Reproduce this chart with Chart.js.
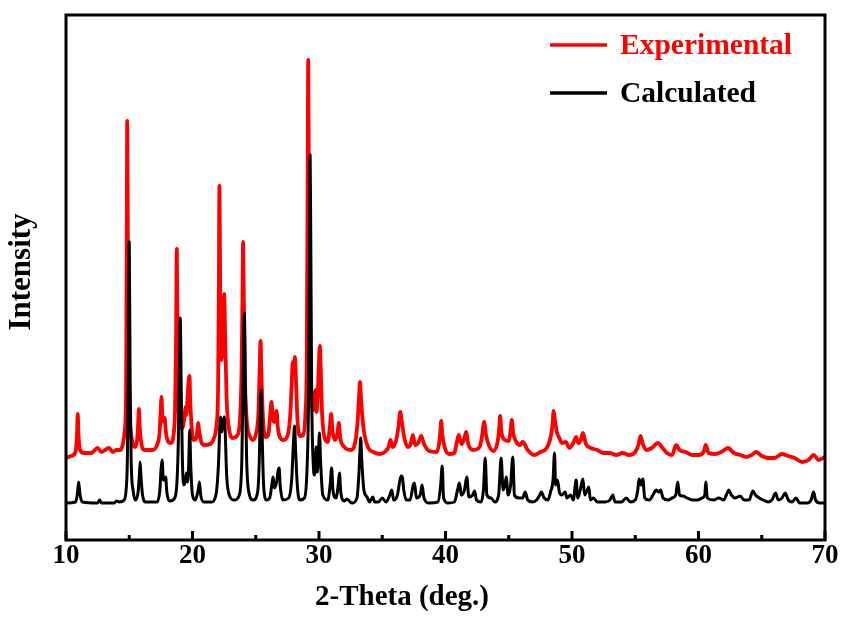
<!DOCTYPE html>
<html>
<head>
<meta charset="utf-8">
<title>XRD pattern</title>
<script src="https://cdn.jsdelivr.net/npm/chart.js@4/dist/chart.umd.min.js"></script>
<style>
  html, body { margin: 0; padding: 0; background: #fff; }
  #wrap { width: 843px; height: 617px; }
</style>
</head>
<body>
<div id="wrap"><canvas id="xrd" width="843" height="617"></canvas></div>
<script>
// 2-theta (deg.) / intensity pairs, measured pattern (offset upward)
const experimental = [
  [10.0,82],[10.4,84],[10.75,88],[10.87,105],[10.93,126],[10.99,105],[11.12,90],[11.4,87],[12.0,87],[12.5,92],
  [12.8,88],[13.4,92],[13.7,88],[14.0,90],[14.3,90],[14.5,96],[14.65,110],[14.75,150],[14.8,300],[14.84,419],
  [14.89,300],[14.96,160],[15.08,115],[15.25,98],[15.45,93],[15.62,100],[15.7,115],[15.76,131],[15.82,115],[15.95,97],
  [16.2,90],[16.8,90],[17.2,95],[17.4,108],[17.48,128],[17.55,143],[17.63,122],[17.72,118],[17.8,122],[17.9,108],
  [18.05,99],[18.3,97],[18.5,105],[18.62,130],[18.7,200],[18.76,291],[18.82,200],[18.9,135],[19.05,112],[19.2,112],
  [19.38,125],[19.45,133],[19.52,125],[19.62,145],[19.7,160],[19.76,164],[19.82,140],[19.95,110],[20.1,100],[20.3,102],
  [20.4,112],[20.45,117],[20.52,110],[20.7,98],[20.9,95],[21.4,96],[21.7,102],[21.9,115],[22.02,150],[22.08,250],
  [22.13,354],[22.19,250],[22.27,180],[22.35,190],[22.43,230],[22.5,246],[22.57,210],[22.7,140],[22.9,110],[23.2,102],
  [23.5,104],[23.75,120],[23.88,170],[23.95,240],[24.0,298],[24.06,240],[24.15,160],[24.3,118],[24.5,105],[24.8,100],
  [25.05,108],[25.2,125],[25.3,165],[25.38,199],[25.45,165],[25.58,120],[25.8,103],[26.0,106],[26.12,122],[26.24,138],
  [26.35,122],[26.48,118],[26.64,129],[26.75,112],[26.9,103],[27.2,100],[27.55,106],[27.75,130],[27.85,160],[27.93,178],
  [28.02,168],[28.1,183],[28.18,160],[28.3,120],[28.5,104],[28.75,105],[28.92,125],[29.03,180],[29.1,350],[29.15,480],
  [29.2,350],[29.28,200],[29.4,145],[29.55,130],[29.65,145],[29.72,150],[29.8,128],[29.92,150],[30.0,180],[30.07,194],
  [30.14,170],[30.25,125],[30.45,102],[30.7,98],[30.85,112],[30.96,126],[31.06,110],[31.25,100],[31.45,106],[31.57,117],
  [31.67,103],[32.0,93],[32.5,90],[32.85,97],[33.05,118],[33.15,140],[33.24,158],[33.33,140],[33.45,120],[33.6,105],
  [33.9,92],[34.3,88],[34.8,86],[35.2,88],[35.5,93],[35.65,100],[35.8,93],[36.1,100],[36.3,115],[36.42,128],
  [36.55,118],[36.75,102],[37.0,93],[37.25,96],[37.42,105],[37.6,95],[37.85,97],[38.08,104],[38.3,96],[38.7,89],
  [39.3,88],[39.5,97],[39.6,110],[39.66,119],[39.75,105],[39.95,92],[40.3,86],[40.7,87],[40.9,98],[41.05,105],
  [41.25,96],[41.45,100],[41.63,108],[41.8,96],[42.2,90],[42.7,93],[42.9,105],[43.06,118],[43.2,105],[43.45,94],
  [43.8,89],[44.1,97],[44.25,112],[44.32,124],[44.42,108],[44.7,100],[45.0,99],[45.15,110],[45.24,120],[45.35,107],
  [45.6,98],[45.9,95],[46.1,98],[46.5,90],[47.0,85],[47.5,88],[48.0,92],[48.3,102],[48.45,115],[48.55,129],
  [48.65,120],[48.8,108],[49.0,102],[49.2,97],[49.5,98],[49.8,92],[50.1,97],[50.33,103],[50.5,97],[50.7,100],
  [50.86,107],[51.1,96],[51.5,92],[52.0,90],[52.5,87],[53.0,87],[53.5,85],[54.0,87],[54.5,85],[55.0,88],
  [55.25,95],[55.42,104],[55.6,96],[55.9,90],[56.3,92],[56.8,97],[57.1,93],[57.5,87],[57.9,85],[58.24,95],
  [58.5,90],[59.0,88],[59.5,85],[60.0,85],[60.4,88],[60.57,95],[60.8,87],[61.3,86],[61.8,88],[62.33,92],
  [62.8,87],[63.3,85],[63.8,83],[64.2,85],[64.56,88],[65.0,84],[65.5,82],[66.0,82],[66.6,86],[67.1,84],
  [67.6,82],[68.2,78],[68.7,80],[69.1,85],[69.5,80],[70.0,83]
];

// simulated pattern from the crystal structure
const calculated = [
  [10,37],[10.75,38],[10.9,46],[11.0,58],[11.1,46],[11.3,38],[12.5,37],[12.65,40],[12.8,37],[13.8,37],
  [14.0,39],[14.2,38],[14.6,40],[14.75,50],[14.85,80],[14.92,160],[15.0,298],[15.07,160],[15.15,80],[15.3,50],
  [15.5,40],[15.7,48],[15.8,65],[15.86,78],[15.92,65],[16.05,45],[16.3,38],[17.2,38],[17.42,50],[17.52,72],
  [17.6,80],[17.7,60],[17.82,60],[17.88,63],[17.97,48],[18.2,39],[18.6,42],[18.78,60],[18.88,100],[18.96,170],
  [19.03,222],[19.1,160],[19.2,80],[19.32,55],[19.45,60],[19.53,67],[19.6,58],[19.7,75],[19.78,110],[19.86,75],
  [20.0,45],[20.2,40],[20.45,50],[20.55,58],[20.65,45],[20.9,38],[21.5,38],[21.85,45],[22.05,75],[22.15,110],
  [22.22,123],[22.3,108],[22.4,115],[22.5,123],[22.58,110],[22.7,65],[22.9,45],[23.3,40],[23.7,45],[23.9,80],
  [24.0,160],[24.1,227],[24.17,160],[24.28,80],[24.45,48],[24.8,40],[25.15,48],[25.28,80],[25.36,130],[25.43,150],
  [25.5,110],[25.62,55],[25.85,40],[26.1,42],[26.28,56],[26.37,63],[26.47,52],[26.65,58],[26.78,70],[26.85,72],
  [26.93,55],[27.15,40],[27.6,42],[27.85,62],[27.97,95],[28.07,114],[28.15,90],[28.3,52],[28.5,40],[28.85,42],
  [29.05,70],[29.18,150],[29.25,300],[29.3,385],[29.35,300],[29.42,150],[29.55,75],[29.65,65],[29.78,93],[29.86,68],
  [29.95,85],[30.04,107],[30.12,80],[30.3,45],[30.7,40],[30.88,55],[31.0,72],[31.1,50],[31.35,42],[31.52,55],
  [31.62,67],[31.72,48],[32.0,39],[32.2,41],[32.6,37],[33.0,42],[33.15,65],[33.24,90],[33.3,102],[33.38,80],
  [33.55,50],[33.8,43],[34.0,38],[34.25,43],[34.4,38],[34.7,38],[35.0,42],[35.3,38],[35.6,45],[35.75,50],
  [35.9,40],[36.2,45],[36.4,60],[36.5,64],[36.6,62],[36.7,50],[36.9,40],[37.2,40],[37.45,55],[37.55,57],
  [37.7,42],[38.0,45],[38.15,55],[38.3,42],[38.7,37],[39.4,38],[39.62,55],[39.74,74],[39.85,42],[40.2,37],
  [40.7,38],[40.95,50],[41.1,57],[41.25,45],[41.5,50],[41.68,63],[41.85,43],[42.15,45],[42.3,49],[42.45,40],
  [42.8,38],[43.0,50],[43.14,82],[43.27,45],[43.6,42],[43.9,38],[44.2,45],[44.4,82],[44.55,50],[44.7,55],
  [44.8,63],[44.95,45],[45.15,55],[45.32,83],[45.45,45],[45.8,42],[46.1,42],[46.3,48],[46.5,40],[46.9,38],
  [47.2,40],[47.45,45],[47.57,48],[47.8,42],[48.1,40],[48.3,48],[48.5,60],[48.62,87],[48.7,55],[48.85,60],
  [49.0,48],[49.2,45],[49.45,48],[49.6,42],[49.9,45],[50.1,40],[50.33,60],[50.45,42],[50.65,50],[50.86,61],
  [51.0,45],[51.15,48],[51.33,53],[51.45,40],[51.7,42],[52.0,38],[52.6,38],[53.0,40],[53.23,45],[53.4,38],
  [53.9,38],[54.3,42],[54.6,38],[55.0,40],[55.2,50],[55.3,61],[55.45,55],[55.6,61],[55.75,42],[56.1,40],
  [56.4,45],[56.66,50],[56.85,48],[57.0,50],[57.2,42],[57.6,40],[57.9,42],[58.2,45],[58.36,58],[58.5,45],
  [58.8,44],[59.1,42],[59.5,40],[59.9,40],[60.3,42],[60.5,45],[60.57,58],[60.7,42],[61.2,40],[61.6,42],
  [62.0,40],[62.2,45],[62.4,50],[62.6,45],[62.9,42],[63.3,44],[63.6,40],[64.0,40],[64.3,49],[64.5,45],
  [64.8,42],[65.1,40],[65.5,38],[65.8,40],[66.1,47],[66.3,40],[66.6,42],[66.85,47],[67.1,40],[67.4,38],
  [67.7,42],[68.0,37],[68.6,37],[68.9,40],[69.1,48],[69.25,40],[69.6,37],[70.0,37]
];

const seriesNames = ['Experimental', 'Calculated'];
const seriesColors = ['#ff0000', '#000000'];
const majorTicks = [10, 20, 30, 40, 50, 60, 70];
const minorTicks = [15, 25, 35, 45, 55, 65];
const xTitle = '2-Theta (deg.)';
const yTitle = 'Intensity';

const FONT = '"Liberation Serif", "Times New Roman", serif';

// closed frame with inward ticks on the bottom axis
const framePlugin = {
  id: 'frame',
  afterDatasetsDraw(chart) {
    const { ctx, chartArea: a, scales } = chart;
    ctx.save();
    ctx.strokeStyle = '#000';
    ctx.lineWidth = 3;
    ctx.lineCap = 'butt';
    ctx.beginPath();
    majorTicks.forEach(t => {
      const x = scales.x.getPixelForValue(t);
      ctx.moveTo(x, a.bottom);
      ctx.lineTo(x, a.bottom - 9);
    });
    minorTicks.forEach(t => {
      const x = scales.x.getPixelForValue(t);
      ctx.moveTo(x, a.bottom);
      ctx.lineTo(x, a.bottom - 5);
    });
    ctx.stroke();
    ctx.strokeRect(a.left, a.top, a.right - a.left, a.bottom - a.top);
    ctx.restore();
  }
};

// axis titles and the legend inside the plot, top right
const labelsPlugin = {
  id: 'labels',
  afterDraw(chart) {
    const { ctx } = chart;
    ctx.save();
    ctx.fillStyle = '#000';
    ctx.textBaseline = 'middle';
    ctx.textAlign = 'center';
    ctx.font = 'bold 29px ' + FONT;
    ctx.fillText(xTitle, 402, 598);

    ctx.save();
    ctx.translate(22, 272);
    ctx.rotate(-Math.PI / 2);
    ctx.font = 'bold 31px ' + FONT;
    ctx.fillText(yTitle, 0, 0);
    ctx.restore();

    ctx.font = 'bold 29.5px ' + FONT;
    ctx.textAlign = 'left';
    const rows = [45, 93];
    seriesNames.forEach((name, i) => {
      const y = rows[i];
      ctx.strokeStyle = seriesColors[i];
      ctx.lineWidth = 3.5;
      ctx.beginPath();
      ctx.moveTo(550, y);
      ctx.lineTo(607, y);
      ctx.stroke();
      ctx.fillStyle = seriesColors[i];
      ctx.fillText(name, 620, y + 1);
    });
    ctx.restore();
  }
};

new Chart(document.getElementById('xrd').getContext('2d'), {
  type: 'line',
  data: {
    datasets: [
      {
        label: seriesNames[0],
        data: experimental.map(p => ({ x: p[0], y: p[1] })),
        borderColor: seriesColors[0],
        borderWidth: 3.8,
        order: 2
      },
      {
        label: seriesNames[1],
        data: calculated.map(p => ({ x: p[0], y: p[1] })),
        borderColor: seriesColors[1],
        borderWidth: 3,
        order: 1
      }
    ]
  },
  options: {
    responsive: false,
    animation: false,
    events: [],
    layout: { padding: { top: 15, right: 18, left: 0, bottom: 0 } },
    elements: {
      point: { radius: 0 },
      line: { cubicInterpolationMode: 'monotone', borderJoinStyle: 'round', borderCapStyle: 'round', fill: false }
    },
    plugins: { legend: { display: false }, tooltip: { enabled: false } },
    scales: {
      x: {
        type: 'linear',
        min: 10,
        max: 70,
        grid: { display: false, drawTicks: false },
        border: { display: false },
        ticks: {
          stepSize: 10,
          padding: 0,
          color: '#000',
          font: { family: FONT, size: 27, weight: 'bold' }
        },
        afterFit(scale) { scale.height = 77; }
      },
      y: {
        min: 0,
        max: 525,
        grid: { display: false, drawTicks: false },
        border: { display: false },
        ticks: { display: false },
        afterFit(scale) { scale.width = 66; }
      }
    }
  },
  plugins: [framePlugin, labelsPlugin]
});
</script>
</body>
</html>
